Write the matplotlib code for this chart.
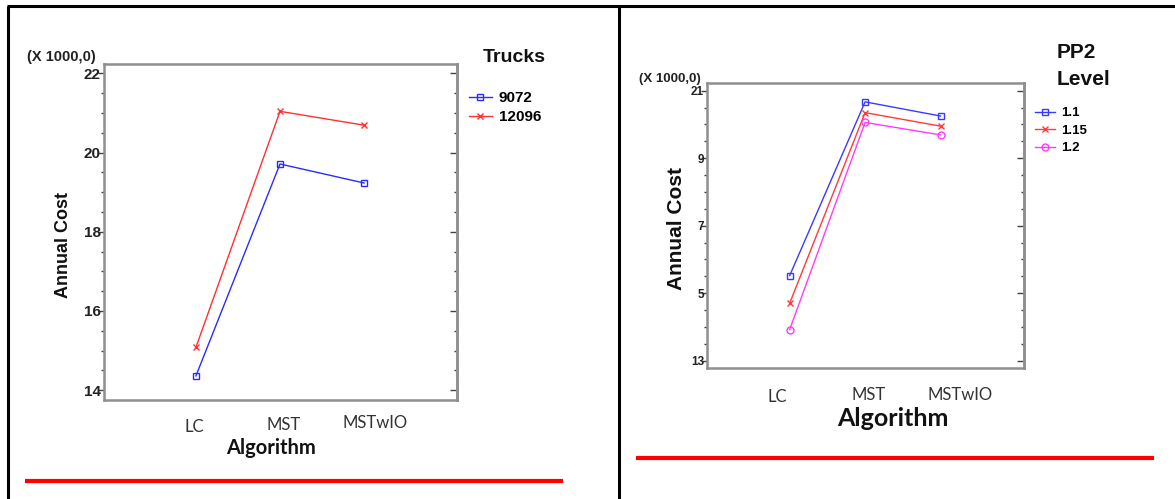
import matplotlib
matplotlib.use("Agg")
import matplotlib.pyplot as plt
from matplotlib.lines import Line2D
from matplotlib.ticker import MultipleLocator

W, H = 1175, 499

# data
algorithms = ["LC", "MST", "MSTwIO"]

trucks_levels = ["9072", "12096"]
cost_9072 = [14.36, 19.71, 19.23]
cost_12096 = [15.08, 21.04, 20.69]

pp2_levels = ["1.1", "1.15", "1.2"]
cost_pp2_11 = [15.52, 20.67, 20.25]
cost_pp2_115 = [14.70, 20.35, 19.95]
cost_pp2_12 = [13.92, 20.06, 19.69]

left_yticks = [14, 16, 18, 20, 22]
left_yticklabels = ["14", "16", "18", "20", "22"]
right_yticks = [13, 15, 17, 19, 21]
right_yticklabels = ["13", "5", "7", "9", "21"]  # leading digits are clipped in the source

NARROW = ["Liberation Sans Narrow", "Liberation Sans", "DejaVu Sans"]
SOFT = ["Lato", "DejaVu Sans"]


def fx(x):
    return x / W


def fy(y):
    return 1 - y / H


def px_rect(x0, y0, x1, y1):
    return [x0 / W, 1 - y1 / H, (x1 - x0) / W, (y1 - y0) / H]


def panel(fig, rect, series, ylim, yticks, yticklabels, tick_fs, cat_fs, cat_offsets):
    ax = fig.add_axes(rect)
    xs = list(range(1, len(algorithms) + 1))
    handles = []
    for vals, label, color, marker in series:
        h, = ax.plot(xs, vals, color=color, lw=1.0, marker=marker, ms=5,
                     mfc="none", mec=color, mew=1.0, label=label)
        handles.append(h)
    ax.set_xlim(-0.1, 4.1)
    ax.set_ylim(*ylim)
    for s in ax.spines.values():
        s.set_color("#8f8f8f")
        s.set_linewidth(1.8)
    ax.set_xticks([])
    ax.set_yticks(yticks)
    ax.set_yticklabels(yticklabels, fontfamily=NARROW, fontweight="bold",
                       fontsize=tick_fs, color="#222222")
    ax.yaxis.set_minor_locator(MultipleLocator(0.5))
    ax.tick_params(axis="y", which="major", direction="out", length=4.5,
                   width=1, color="#444444", pad=-2.5)
    ax.tick_params(axis="y", which="minor", direction="out", length=2.5,
                   width=1, color="#444444")
    sec = ax.secondary_yaxis("right")
    sec.set_yticks(yticks)
    sec.yaxis.set_minor_locator(MultipleLocator(0.5))
    sec.tick_params(axis="y", which="major", direction="in", length=5,
                    width=1, color="#444444", labelright=False)
    sec.tick_params(axis="y", which="minor", direction="in", length=2.5,
                    width=1, color="#444444")
    sec.spines["right"].set_color("#8f8f8f")
    sec.spines["right"].set_linewidth(1.8)
    for x, name, (dx, dy) in zip(xs, algorithms, cat_offsets):
        ax.annotate(name, xy=(x, 0), xycoords=("data", "axes fraction"),
                    xytext=(dx, dy), textcoords="offset pixels",
                    ha="center", va="center", fontfamily=SOFT,
                    fontsize=cat_fs, color="#333333")
    return ax, handles


fig = plt.figure(figsize=(W / 100, H / 100), dpi=100)

# table frame
frame = dict(color="black", lw=2.2, solid_capstyle="butt")
fig.add_artist(Line2D([fx(7), fx(W)], [fy(6), fy(6)], **frame))
fig.add_artist(Line2D([fx(8), fx(8)], [fy(6), fy(H)], **frame))
fig.add_artist(Line2D([fx(619), fx(619)], [fy(6), fy(H)], **frame))

# left: Trucks
ax1, h1 = panel(
    fig, px_rect(103.5, 64, 456.5, 400),
    [(cost_9072, trucks_levels[0], "#2b2bff", "s"),
     (cost_12096, trucks_levels[1], "#ff3030", "x")],
    (13.75, 22.235), left_yticks, left_yticklabels, 11, 12,
    [(-2, -27), (4, -25), (11, -23)])
fig.text(fx(27), fy(57), "(X 1000,0)", fontfamily=NARROW, fontweight="bold",
         fontsize=10.5, ha="left", va="center", color="#222222")
fig.text(fx(64), fy(245), "Annual Cost", fontfamily=NARROW, fontweight="bold",
         fontsize=13, rotation=90, ha="center", va="center", color="#111111")
fig.text(fx(271), fy(448), "Algorithm", fontfamily=SOFT, fontweight="bold",
         fontsize=14.5, ha="center", va="center", color="#111111")
fig.text(fx(483), fy(58), "Trucks", fontfamily=NARROW, fontweight="bold",
         fontsize=14, ha="left", va="center", color="#111111")
leg1 = fig.legend(handles=h1, loc="upper left",
                  bbox_to_anchor=(fx(469), fy(91)), frameon=False,
                  prop=dict(family=NARROW, weight="bold", size=11),
                  handlelength=1.5, handletextpad=0.45, labelspacing=0.35,
                  borderpad=0, borderaxespad=0)
fig.add_artist(Line2D([fx(25), fx(563)], [fy(481), fy(481)],
                      color="#ff0000", lw=3, solid_capstyle="butt"))

# right: PP2 Level
ax2, h2 = panel(
    fig, px_rect(706.7, 83.3, 1023.5, 367.7),
    [(cost_pp2_11, pp2_levels[0], "#3a3aff", "s"),
     (cost_pp2_115, pp2_levels[1], "#ff3a3a", "x"),
     (cost_pp2_12, pp2_levels[2], "#ff3aff", "o")],
    (12.79, 21.22), right_yticks, right_yticklabels, 8.5, 12,
    [(-12, -29), (4, -27), (20, -27)])
fig.text(fx(639), fy(79), "(X 1000,0)", fontfamily=NARROW, fontweight="bold",
         fontsize=9.5, ha="left", va="center", color="#222222")
fig.text(fx(677), fy(228), "Annual Cost", fontfamily=NARROW, fontweight="bold",
         fontsize=15, rotation=90, ha="center", va="center", color="#111111")
fig.text(fx(893), fy(418), "Algorithm", fontfamily=SOFT, fontweight="bold",
         fontsize=18, ha="center", va="center", color="#111111")
fig.text(fx(1057), fy(52), "PP2", fontfamily=NARROW, fontweight="bold",
         fontsize=15, ha="left", va="center", color="#111111")
fig.text(fx(1057), fy(80), "Level", fontfamily=NARROW, fontweight="bold",
         fontsize=15, ha="left", va="center", color="#111111")
leg2 = fig.legend(handles=h2, loc="upper left",
                  bbox_to_anchor=(fx(1035), fy(107)), frameon=False,
                  prop=dict(family=NARROW, weight="bold", size=9.5),
                  handlelength=1.5, handletextpad=0.45, labelspacing=0.4,
                  borderpad=0, borderaxespad=0)
fig.add_artist(Line2D([fx(636), fx(1154)], [fy(457.7), fy(457.7)],
                      color="#ff0000", lw=3, solid_capstyle="butt"))

fig.savefig("out.png", dpi=100)
